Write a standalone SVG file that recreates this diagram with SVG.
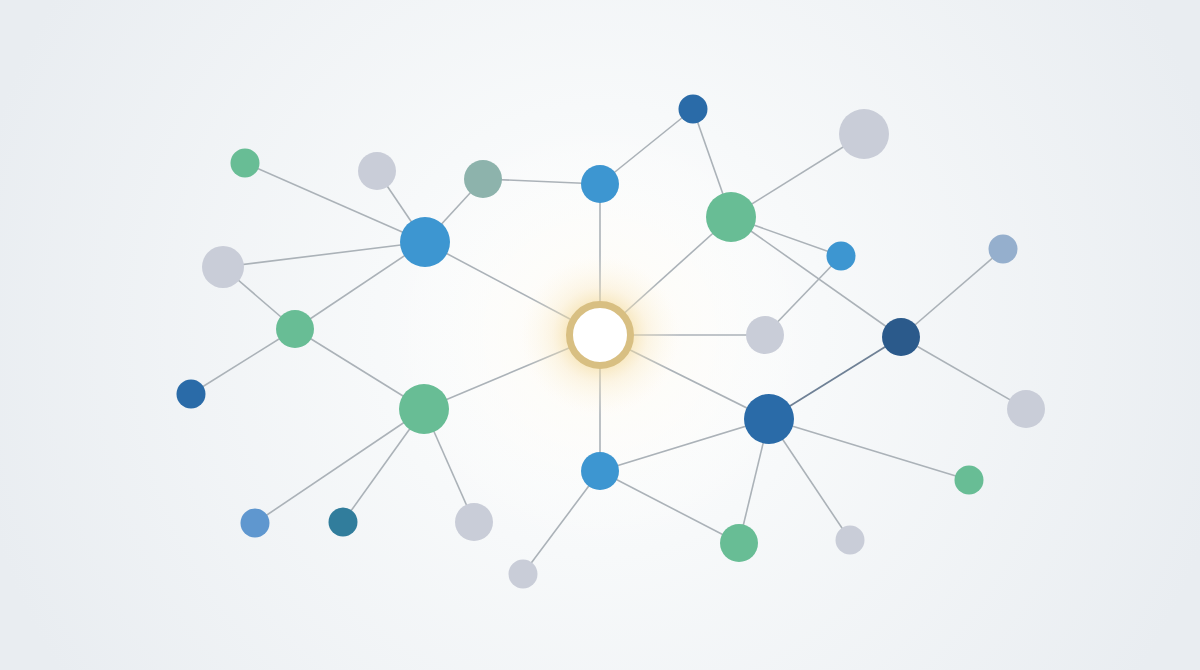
<svg xmlns="http://www.w3.org/2000/svg" width="1200" height="670" viewBox="0 0 1200 670">
<defs>
<radialGradient id="bg" cx="600" cy="330" r="640" gradientUnits="userSpaceOnUse">
<stop offset="0" stop-color="#ffffff"/>
<stop offset="0.35" stop-color="#f7f9fa"/>
<stop offset="1" stop-color="#e9edf1"/>
</radialGradient>
<radialGradient id="glow" cx="600" cy="335" r="80" gradientUnits="userSpaceOnUse">
<stop offset="0.38" stop-color="#f2d896" stop-opacity="0.6"/>
<stop offset="0.6" stop-color="#f8e7bf" stop-opacity="0.35"/>
<stop offset="1" stop-color="#fdf6e4" stop-opacity="0"/>
</radialGradient>
<radialGradient id="warm" cx="600" cy="335" r="220" gradientUnits="userSpaceOnUse">
<stop offset="0" stop-color="#fffaf0" stop-opacity="0.8"/>
<stop offset="1" stop-color="#ffffff" stop-opacity="0"/>
</radialGradient>
</defs>
<style>
.e{stroke:#abb2b8;stroke-width:1.6;fill:none}
.ed{stroke:#6f8196;stroke-width:1.8;fill:none}
.green{fill:#68bd95}
.blue{fill:#3d96d1}
.dblue{fill:#2a6ba8}
.navy{fill:#2b5a8b}
.gray{fill:#c9cdd8}
.tgray{fill:#8db3ac}
.slate{fill:#95afcd}
.mblue{fill:#5f97cf}
.teal{fill:#317d9c}
</style>
<rect x="0" y="0" width="1200" height="670" fill="url(#bg)"/>
<circle cx="600" cy="335" r="220" fill="url(#warm)"/>
<g id="connectors">
<line class="e" x1="245" y1="163" x2="425" y2="242"/>
<line class="e" x1="377" y1="171" x2="425" y2="242"/>
<line class="e" x1="483" y1="179" x2="425" y2="242"/>
<line class="e" x1="483" y1="179" x2="600" y2="184"/>
<line class="e" x1="600" y1="184" x2="693" y2="109"/>
<line class="e" x1="600" y1="184" x2="600" y2="335"/>
<line class="e" x1="693" y1="109" x2="731" y2="217"/>
<line class="e" x1="864" y1="134" x2="731" y2="217"/>
<line class="e" x1="731" y1="217" x2="600" y2="335"/>
<line class="e" x1="731" y1="217" x2="841" y2="256"/>
<line class="e" x1="731" y1="217" x2="901" y2="337"/>
<line class="e" x1="841" y1="256" x2="765" y2="335"/>
<line class="e" x1="1003" y1="249" x2="901" y2="337"/>
<line class="e" x1="223" y1="267" x2="425" y2="242"/>
<line class="e" x1="223" y1="267" x2="295" y2="329"/>
<line class="e" x1="295" y1="329" x2="425" y2="242"/>
<line class="e" x1="295" y1="329" x2="191" y2="394"/>
<line class="e" x1="295" y1="329" x2="424" y2="409"/>
<line class="e" x1="425" y1="242" x2="600" y2="335"/>
<line class="e" x1="424" y1="409" x2="600" y2="335"/>
<line class="e" x1="424" y1="409" x2="255" y2="523"/>
<line class="e" x1="424" y1="409" x2="343" y2="522"/>
<line class="e" x1="424" y1="409" x2="474" y2="522"/>
<line class="e" x1="600" y1="335" x2="765" y2="335"/>
<line class="e" x1="600" y1="335" x2="769" y2="419"/>
<line class="e" x1="600" y1="335" x2="600" y2="471"/>
<line class="ed" x1="901" y1="337" x2="769" y2="419"/>
<line class="e" x1="901" y1="337" x2="1026" y2="409"/>
<line class="e" x1="769" y1="419" x2="600" y2="471"/>
<line class="e" x1="769" y1="419" x2="969" y2="480"/>
<line class="e" x1="769" y1="419" x2="739" y2="543"/>
<line class="e" x1="769" y1="419" x2="850" y2="540"/>
<line class="e" x1="600" y1="471" x2="739" y2="543"/>
<line class="e" x1="600" y1="471" x2="523" y2="574"/>
</g>
<g id="center">
<circle cx="600" cy="335" r="80" fill="url(#glow)"/>
<circle cx="600" cy="335" r="30.5" fill="#ffffff" stroke="#d8bf82" stroke-width="7"/>
</g>
<g id="n1"><circle class="green" cx="245" cy="163" r="14.5"/></g>
<g id="n2"><circle class="gray" cx="377" cy="171" r="19"/></g>
<g id="n3"><circle class="tgray" cx="483" cy="179" r="19"/></g>
<g id="n4"><circle class="blue" cx="600" cy="184" r="19"/></g>
<g id="n5"><circle class="dblue" cx="693" cy="109" r="14.5"/></g>
<g id="n6"><circle class="gray" cx="864" cy="134" r="25"/></g>
<g id="n7"><circle class="green" cx="731" cy="217" r="25"/></g>
<g id="n8"><circle class="blue" cx="841" cy="256" r="14.5"/></g>
<g id="n9"><circle class="slate" cx="1003" cy="249" r="14.5"/></g>
<g id="n10"><circle class="blue" cx="425" cy="242" r="25"/></g>
<g id="n11"><circle class="gray" cx="223" cy="267" r="21"/></g>
<g id="n12"><circle class="green" cx="295" cy="329" r="19"/></g>
<g id="n13"><circle class="dblue" cx="191" cy="394" r="14.5"/></g>
<g id="n14"><circle class="green" cx="424" cy="409" r="25"/></g>
<g id="n15"><circle class="gray" cx="765" cy="335" r="19"/></g>
<g id="n16"><circle class="navy" cx="901" cy="337" r="19"/></g>
<g id="n17"><circle class="gray" cx="1026" cy="409" r="19"/></g>
<g id="n18"><circle class="dblue" cx="769" cy="419" r="25"/></g>
<g id="n19"><circle class="blue" cx="600" cy="471" r="19"/></g>
<g id="n20"><circle class="green" cx="969" cy="480" r="14.5"/></g>
<g id="n21"><circle class="mblue" cx="255" cy="523" r="14.5"/></g>
<g id="n22"><circle class="teal" cx="343" cy="522" r="14.5"/></g>
<g id="n23"><circle class="gray" cx="474" cy="522" r="19"/></g>
<g id="n24"><circle class="green" cx="739" cy="543" r="19"/></g>
<g id="n25"><circle class="gray" cx="850" cy="540" r="14.5"/></g>
<g id="n26"><circle class="gray" cx="523" cy="574" r="14.5"/></g>
</svg>
